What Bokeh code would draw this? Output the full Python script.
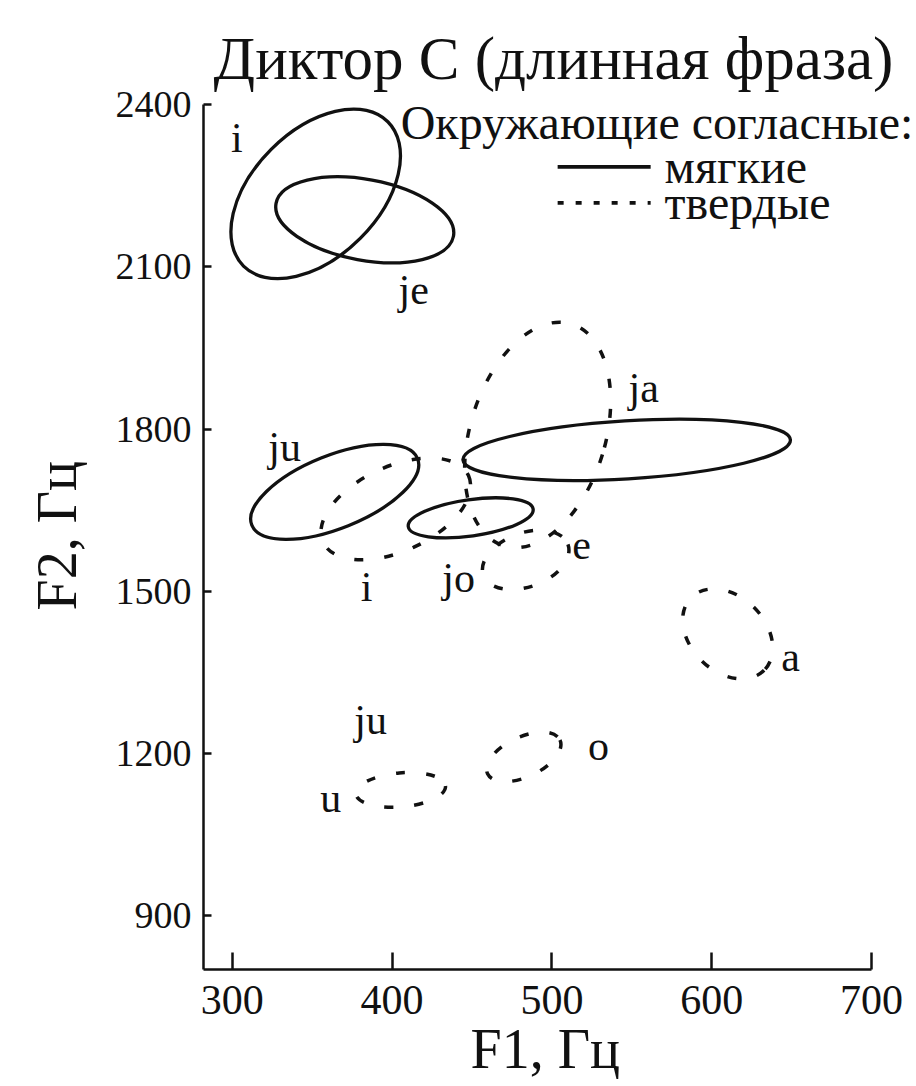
from bokeh.plotting import figure
from bokeh.models import Range1d, FixedTicker, ColumnDataSource, Label, Title
from bokeh.core.properties import value
from bokeh.embed import file_html
from bokeh.resources import INLINE

SERIF = "Liberation Serif"

# --- data: formant ellipses (F1, F2 in Hz) ---
# soft surrounding consonants (solid)
soft_vowels = ["i", "je", "ju", "ja", "jo"]
soft_f1 = [352.2, 382.9, 364.1, 546.8, 449.2]
soft_f2 = [2235.0, 2187.0, 1683.7, 1761.4, 1635.6]
soft_w = [127.7, 112.9, 111.8, 205.3, 78.9]
soft_h = [233.0, 149.5, 135.0, 107.3, 67.3]
soft_angle = [45.0, -10.5, 21.9, 3.5, 8.0]

# hard surrounding consonants (dashed)
hard_vowels = ["ja", "i", "e", "a", "o", "u"]
hard_f1 = [491.1, 402.3, 483.6, 610.0, 482.4, 405.4]
hard_f2 = [1789.1, 1652.2, 1557.9, 1420.9, 1193.4, 1132.3]
hard_w = [84.7, 100.1, 56.3, 64.5, 50.0, 56.3]
hard_h = [429.2, 156.9, 99.9, 138.4, 74.0, 62.9]
hard_angle = [-16.9, 24.6, 20.0, -45.0, 25.0, 5.0]

# vowel labels
label_text = ["i", "je", "ju", "ja", "i", "jo", "e", "a", "ju", "o", "u"]
label_f1 = [302.8, 413.5, 332.8, 557.4, 384.1, 441.6, 518.6, 649.4, 386.6, 529.2, 361.6]
label_f2 = [2338.6, 2057.4, 1766.9, 1876.1, 1507.9, 1524.6, 1585.6, 1378.4, 1261.8, 1213.7, 1117.5]

x_ticks = [300, 400, 500, 600, 700]
y_ticks = [900, 1200, 1500, 1800, 2100, 2400]

title_text = "Диктор С (длинная фраза)"
x_label = "F1, Гц"
y_label = "F2, Гц"
legend_title = "Окружающие согласные:"
legend_soft = "мягкие"
legend_hard = "твердые"

INK = "#111111"
DASH = "9 21"

# axes span 282..700 Hz and 800..2400 Hz; the frame is extended up and right
# so that title and legend texts (drawn inside it) are not clipped
p = figure(
    width=914, height=1085, title=None,
    x_range=Range1d(282, 726.9), y_range=Range1d(800, 2592.8),
    output_backend="svg", toolbar_location=None,
    min_border_left=203, min_border_right=0,
    min_border_top=0, min_border_bottom=116,
    background_fill_color="white", border_fill_color="white",
)
p.outline_line_color = None
p.xgrid.visible = False
p.ygrid.visible = False

for ax, ticks, tin, bnd in ((p.xaxis[0], x_ticks, 17, (282, 700)),
                            (p.yaxis[0], y_ticks, 8, (800, 2400))):
    ax.ticker = FixedTicker(ticks=ticks)
    ax.bounds = bnd
    ax.minor_tick_line_color = None
    ax.major_tick_in = tin
    ax.major_tick_out = 0
    ax.axis_line_width = 2.5
    ax.major_tick_line_width = 2.5
    ax.axis_line_color = INK
    ax.major_tick_line_color = INK
    ax.major_label_text_font = SERIF
    ax.major_label_text_color = INK

p.xaxis.major_label_text_font_size = "42px"
p.yaxis.major_label_text_font_size = "38px"
p.xaxis.major_label_standoff = 16
p.yaxis.major_label_standoff = 12

# axis titles, placed along the bounded axes
p.add_layout(Title(text=y_label, align="left", offset=359, vertical_align="middle",
                   standoff=48, text_font=SERIF, text_font_size="56px",
                   text_font_style="normal", text_color=INK), "left")
p.add_layout(Title(text=x_label, align="left", offset=267, vertical_align="middle",
                   standoff=0, text_font=SERIF, text_font_size="56px",
                   text_font_style="normal", text_color=INK), "below")

soft = ColumnDataSource(dict(x=soft_f1, y=soft_f2, w=soft_w, h=soft_h, a=soft_angle))
hard = ColumnDataSource(dict(x=hard_f1, y=hard_f2, w=hard_w, h=hard_h, a=hard_angle))

p.ellipse(x="x", y="y", width="w", height="h", angle="a", angle_units="deg",
          source=soft, fill_color=None, line_color=INK, line_width=3.3)
p.ellipse(x="x", y="y", width="w", height="h", angle="a", angle_units="deg",
          source=hard, fill_color=None, line_color=INK, line_width=3.5,
          line_dash=DASH)

labels = ColumnDataSource(dict(x=label_f1, y=label_f2, t=label_text))
p.text(x="x", y="y", text="t", source=labels, text_align="center",
       text_baseline="middle", text_font=value(SERIF), text_font_size="42px",
       text_color=INK)

# chart title (drawn as text above the axis top)
p.add_layout(Label(x=288.3, y=2485.1, text=title_text, text_font=SERIF,
                   text_font_size="61px", text_baseline="alphabetic",
                   text_align="left", text_color=INK))

# legend
p.add_layout(Label(x=405.4, y=2366.4, text=legend_title, text_font=SERIF,
                   text_font_size="48px", text_baseline="middle", text_align="left",
                   text_color=INK))
p.line(x=[503.6, 561.8], y=[2285, 2285], line_color=INK, line_width=3.8)
p.line(x=[503.6, 561.8], y=[2218.4, 2218.4], line_color=INK, line_width=3.8,
       line_dash="6 12")
p.add_layout(Label(x=570.5, y=2285, text=legend_soft, text_font=SERIF,
                   text_font_size="48px", text_baseline="middle", text_align="left",
                   text_color=INK))
p.add_layout(Label(x=570.5, y=2218.4, text=legend_hard, text_font=SERIF,
                   text_font_size="48px", text_baseline="middle", text_align="left",
                   text_color=INK))

open("out.html", "w").write(file_html(p, INLINE))
